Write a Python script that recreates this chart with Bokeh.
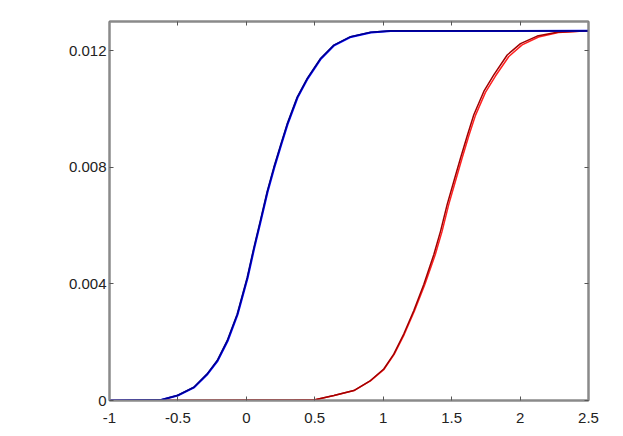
from bokeh.plotting import figure
from bokeh.models import Range1d, LinearAxis, FixedTicker, CustomJSTickFormatter
from bokeh.embed import file_html
from bokeh.resources import INLINE

# Series
blue_x = [-1.0, -0.627, -0.505, -0.384, -0.286, -0.213, -0.140, -0.067, 0.006, 0.054, 0.103,
          0.152, 0.200, 0.249, 0.298, 0.371, 0.445, 0.542, 0.639, 0.761, 0.907, 1.053, 2.5]
blue_y = [0.0, 0.00002, 0.000171, 0.000455, 0.000913, 0.00137, 0.00205, 0.00296, 0.00421, 0.00522, 0.00618,
          0.00716, 0.00798, 0.00874, 0.00948, 0.0104, 0.01105, 0.01173, 0.01219, 0.01248, 0.01263, 0.01268, 0.01268]

blue2_x = [-1.0, -0.624, -0.502, -0.381, -0.283, -0.210, -0.137, -0.064, 0.009, 0.057, 0.106,
           0.155, 0.203, 0.252, 0.301, 0.374, 0.448, 0.545, 0.642, 0.764, 0.910, 1.056, 2.5]
blue2_y = [0.0, 0.00002, 0.00017, 0.00045, 0.00091, 0.00136, 0.00204, 0.00295, 0.0042, 0.00521, 0.00617,
           0.00715, 0.00797, 0.00873, 0.00947, 0.01039, 0.01104, 0.01172, 0.01218, 0.01247, 0.01262, 0.01267, 0.01268]

red_x = [-1.0, 0.493, 0.639, 0.785, 0.907, 1.004, 1.077, 1.150, 1.223, 1.297, 1.370, 1.419, 1.467,
         1.516, 1.565, 1.614, 1.662, 1.735, 1.808, 1.906, 2.003, 2.125, 2.271, 2.5]
red_y = [0.0, 0.00002, 0.000171, 0.000342, 0.000684, 0.00108, 0.00159, 0.00228, 0.00308, 0.00399, 0.00501, 0.00581, 0.00672,
         0.00752, 0.00832, 0.00908, 0.0098, 0.0106, 0.01117, 0.01185, 0.01224, 0.01250, 0.01263, 0.01268]

red2_x = [0.35, 0.495, 0.641, 0.787, 0.909, 1.006, 1.080, 1.154, 1.228, 1.304, 1.380, 1.430, 1.478,
          1.527, 1.576, 1.625, 1.674, 1.747, 1.820, 1.918, 2.015, 2.135, 2.280, 2.5]
red2_y = [0.0, 0.00002, 0.00017, 0.00034, 0.00068, 0.00107, 0.00158, 0.00227, 0.00307, 0.00398, 0.005, 0.0058, 0.00671,
          0.00751, 0.00831, 0.00907, 0.00978, 0.01057, 0.01113, 0.0118, 0.0122, 0.01247, 0.01262, 0.01268]

x_ticks = [-1, -0.5, 0, 0.5, 1, 1.5, 2, 2.5]
x_labels = ["-1", "-0.5", "0", "0.5", "1", "1.5", "2", "2.5"]
y_ticks = [0, 0.004, 0.008, 0.012]
y_labels = ["0", "0.004", "0.008", "0.012"]

FRAME = "#8a8a8a"
FONT = "Liberation Sans"

p = figure(width=615, height=428, output_backend="svg", toolbar_location=None,
           x_range=Range1d(-1, 2.5), y_range=Range1d(0, 0.013),
           min_border_left=109, min_border_right=27, min_border_top=21, min_border_bottom=28,
           x_axis_location=None, y_axis_location=None)
p.grid.visible = False
p.outline_line_color = FRAME
p.outline_line_width = 2
p.background_fill_color = "white"
p.border_fill_color = "white"

def make_axis(ticks, labels, show_labels):
    ax = LinearAxis(ticker=FixedTicker(ticks=ticks), axis_line_color=FRAME, axis_line_width=2,
                    major_tick_in=4, major_tick_out=0, major_tick_line_color="#555555",
                    minor_tick_line_color=None, major_label_text_font=FONT,
                    major_label_text_font_size="15px", major_label_text_color="#222222")
    if show_labels:
        ax.major_label_overrides = {t: l for t, l in zip(ticks, labels)}
    else:
        ax.formatter = CustomJSTickFormatter(code="return '';")
        ax.major_label_standoff = 0
        ax.major_label_text_font_size = "1px"
    return ax

bx = make_axis(x_ticks, x_labels, True)
bx.major_label_standoff = 12
p.add_layout(bx, "below")
ly = make_axis(y_ticks, y_labels, True)
ly.major_label_standoff = 3
p.add_layout(ly, "left")
p.add_layout(make_axis(x_ticks, x_labels, False), "above")
p.add_layout(make_axis(y_ticks, y_labels, False), "right")

p.line(red2_x, red2_y, line_color="#ff2020", line_width=1.5)
p.line(red_x, red_y, line_color="#a00000", line_width=1.5)
p.line(blue2_x, blue2_y, line_color="#0000ff", line_width=2)
p.line(blue_x, blue_y, line_color="#00008b", line_width=1.6)

open("out.html", "w").write(file_html(p, INLINE))
